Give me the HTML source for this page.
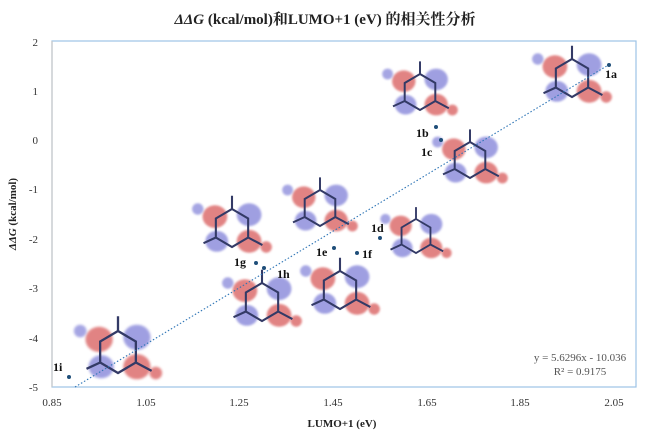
<!DOCTYPE html>
<html><head><meta charset="utf-8"><style>
body{margin:0;background:#fff;}
svg text{font-family:"Liberation Serif","Noto Serif CJK SC",serif;}
</style></head><body>
<svg width="650" height="436" viewBox="0 0 650 436" xmlns="http://www.w3.org/2000/svg">
<defs>
<filter id="b" x="-20%" y="-20%" width="140%" height="140%"><feGaussianBlur stdDeviation="1.2"/></filter>
<g id="mol">
 <ellipse cx="-18" cy="-12" rx="13" ry="12" fill="#d85a5a" opacity="0.75" filter="url(#b)"/>
 <ellipse cx="18" cy="-14" rx="13" ry="12" fill="#8080d8" opacity="0.75" filter="url(#b)"/>
 <ellipse cx="-16" cy="14" rx="12" ry="11" fill="#8080d8" opacity="0.75" filter="url(#b)"/>
 <ellipse cx="18" cy="14" rx="13" ry="12" fill="#d85a5a" opacity="0.75" filter="url(#b)"/>
 <ellipse cx="36" cy="20" rx="6" ry="6" fill="#d85a5a" opacity="0.75" filter="url(#b)"/>
 <ellipse cx="-36" cy="-20" rx="6" ry="6" fill="#8080d8" opacity="0.7" filter="url(#b)"/>
 <path d="M0,-20 L17,-10 L17,10 L0,20 L-17,10 L-17,-10 Z M17,10 L32,18 M0,-20 L0,-34 M-17,10 L-30,16" stroke="#333a66" stroke-width="2.2" fill="none"/>
</g>
</defs>
<text x="325" y="24" text-anchor="middle" font-size="15" font-weight="bold" fill="#222"><tspan font-style="italic">ΔΔG</tspan> (kcal/mol)和LUMO+1 (eV) 的相关性分析</text>
<rect x="52" y="41" width="584" height="346" fill="none" stroke="#9dc3e6" stroke-width="1.2"/>
<line x1="52" y1="41" x2="52" y2="387" stroke="#c8c8c8" stroke-width="1.2"/>
<g font-size="11" fill="#333" text-anchor="end">
<text x="38" y="46">2</text><text x="38" y="95">1</text><text x="38" y="144">0</text><text x="38" y="193">-1</text><text x="38" y="243">-2</text><text x="38" y="292">-3</text><text x="38" y="342">-4</text><text x="38" y="391">-5</text>
</g>
<g font-size="11" fill="#333" text-anchor="middle">
<text x="52" y="406">0.85</text><text x="146" y="406">1.05</text><text x="239" y="406">1.25</text><text x="333" y="406">1.45</text><text x="427" y="406">1.65</text><text x="520" y="406">1.85</text><text x="614" y="406">2.05</text>
</g>
<text x="342" y="427" text-anchor="middle" font-size="11" font-weight="bold" fill="#222">LUMO+1 (eV)</text>
<text transform="translate(16,214) rotate(-90)" text-anchor="middle" font-size="11" font-weight="bold" fill="#222"><tspan font-style="italic">ΔΔG</tspan> (kcal/mol)</text>
<use href="#mol" transform="translate(572,78) scale(0.95)"/>
<use href="#mol" transform="translate(420,92) scale(0.9)"/>
<use href="#mol" transform="translate(470,160) scale(0.9)"/>
<use href="#mol" transform="translate(320,208) scale(0.9)"/>
<use href="#mol" transform="translate(416,236) scale(0.85)"/>
<use href="#mol" transform="translate(232,228) scale(0.95)"/>
<use href="#mol" transform="translate(262,302) scale(0.95)"/>
<use href="#mol" transform="translate(340,290) scale(0.95)"/>
<use href="#mol" transform="translate(118,352) scale(1.05)"/>
<line x1="75" y1="387" x2="610" y2="64" stroke="#2e75b6" stroke-width="1.1" stroke-dasharray="1.5,2"/>
<g fill="#1f4e79">
<circle cx="609" cy="65" r="2"/><circle cx="436" cy="127" r="2"/><circle cx="441" cy="140" r="2"/>
<circle cx="380" cy="238" r="2"/><circle cx="334" cy="248" r="2"/><circle cx="357" cy="253" r="2"/>
<circle cx="256" cy="263" r="2"/><circle cx="264" cy="268" r="2"/><circle cx="69" cy="377" r="2"/>
</g>
<g font-size="12" font-weight="bold" fill="#111">
<text x="605" y="78">1a</text><text x="416" y="137">1b</text><text x="421" y="156">1c</text>
<text x="371" y="232">1d</text><text x="316" y="256">1e</text><text x="362" y="258">1f</text>
<text x="234" y="266">1g</text><text x="277" y="278">1h</text><text x="53" y="371">1i</text>
</g>
<text x="580" y="361" text-anchor="middle" font-size="11" fill="#555">y = 5.6296x - 10.036</text>
<text x="580" y="375" text-anchor="middle" font-size="11" fill="#555">R² = 0.9175</text>
</svg>
</body></html>
